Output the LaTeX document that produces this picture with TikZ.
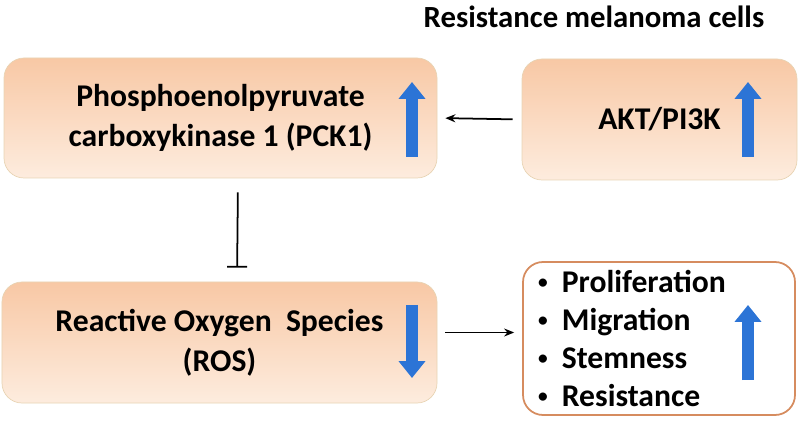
\documentclass[tikz,border=0pt]{standalone}
\usepackage{fontspec}
\setmainfont{Carlito}
\usepackage{tikz}
\usetikzlibrary{arrows.meta}

\definecolor{peachtop}{RGB}{248,200,165}
\definecolor{peachbot}{RGB}{253,236,222}
\definecolor{peachline}{RGB}{232,212,180}
\definecolor{rustline}{RGB}{214,140,95}
\definecolor{upblue}{RGB}{44,116,214}

\newcommand{\smallbul}{\raisebox{0.25ex}{\fontsize{11}{11}\selectfont\textbullet}\hspace{0.45em}}

\begin{document}
\begin{tikzpicture}[
    box/.style={draw=peachline, rounded corners=0.4cm, top color=peachtop, bottom color=peachbot,
      font=\fontsize{18}{22.7}\selectfont\bfseries, align=center, inner sep=0pt},
    outbox/.style={draw=rustline, line width=1pt, rounded corners=0.4cm, fill=white,
      font=\fontsize{18}{21.5}\selectfont\bfseries, align=left, inner xsep=0.3cm},
    conn/.style={line width=1pt, -{Stealth[length=0.2cm,width=0.16cm]}},
    blocker/.style={line width=1pt, -{Bar[width=0.4cm]}},
    bluearrow/.style={upblue, line width=0.24cm, -{Triangle[length=0.34cm,width=0.52cm]}}
  ]
  \useasboundingbox (0,0) rectangle (16,8.46);

  \node[font=\fontsize{17.5}{21}\selectfont\bfseries] (title) at (11.88,8.12) {Resistance melanoma cells};

  \node[box, minimum width=8.66cm, minimum height=2.4cm] (pck) at (4.41,6.10)
    {Phosphoenolpyruvate\\carboxykinase 1 (PCK1)};
  \node[box, minimum width=5.5cm, minimum height=2.42cm] (akt) at (13.19,6.07) {AKT/PI3K};
  \node[box, minimum width=8.7cm, minimum height=2.42cm] (ros) at (4.39,1.61)
    {Reactive Oxygen~~Species\\(ROS)};
  \node[outbox, text width=4.84cm, minimum height=3.06cm] (out) at (13.18,1.69)
    {\smallbul Proliferation\\\smallbul Migration\\\smallbul Stemness\\\smallbul Resistance};

  % up / down marks
  \draw[bluearrow] (8.24,5.32) -- (8.24,6.82);
  \draw[bluearrow] (14.96,5.32) -- (14.96,6.82);
  \draw[bluearrow] (8.24,2.36) -- (8.24,0.90);
  \draw[bluearrow] (14.96,0.86) -- (14.96,2.36);

  % connectors
  \draw[conn, shorten <=0.18cm, shorten >=0.16cm] (akt.west) -- (pck.east);
  \draw[blocker, shorten <=0.28cm, shorten >=0.28cm] ([xshift=0.35cm]pck.south) -- ([xshift=0.35cm]ros.north);
  \draw[conn, shorten <=0.16cm, shorten >=0.16cm] ([yshift=0.2cm]ros.east) -- ([yshift=0.2cm]ros.east -| out.west);
\end{tikzpicture}
\end{document}
